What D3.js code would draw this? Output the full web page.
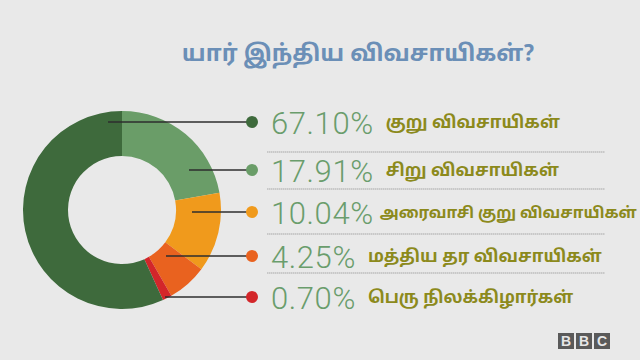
<!DOCTYPE html>
<html><head><meta charset="utf-8">
<script src="https://cdn.jsdelivr.net/npm/d3@7"></script>
<style>
html,body{margin:0;padding:0;background:#e9e9e9;}
svg{display:block;}
</style></head>
<body>
<svg id="c" width="640" height="360"></svg>
<script>
const title = "யார் இந்திய விவசாயிகள்?";
const categories = ["குறு விவசாயிகள்", "சிறு விவசாயிகள்", "அரைவாசி குறு விவசாயிகள்", "மத்திய தர விவசாயிகள்", "பெரு நிலக்கிழார்கள்"];
const values = [67.10, 17.91, 10.04, 4.25, 0.70];
// slice sizes as drawn in the picture (the donut is not drawn to scale)
const drawnShares = [56.8, 22.2, 13.0, 6.5, 1.5];
const colors = ["#3e6a3c", "#6a9d68", "#f09a1c", "#e9621f", "#d3262a"];
// order in which slices go clockwise from 12 o'clock
const sliceOrder = [1, 2, 3, 4, 0];

const fmt = d3.format(".2f");
const svg = d3.select("#c");
svg.append("rect").attr("width",640).attr("height",360).attr("fill","#e9e9e9");

svg.append("text").attr("x",358).attr("y",61).attr("text-anchor","middle")
  .attr("font-family","'Noto Sans Tamil','Lohit Tamil','Noto Sans',sans-serif")
  .attr("font-weight","bold").attr("font-size",23).attr("fill","#6b8fb7").text(title);

const cx = 122, cy = 210, R = 99, r = 54;
const g = svg.append("g").attr("transform",`translate(${cx},${cy})`);
const pie = d3.pie().sort(null).value(i => drawnShares[i]).startAngle(0).endAngle(2*Math.PI);
const arcs = pie(sliceOrder);
const arc = d3.arc().innerRadius(r).outerRadius(R);
g.selectAll("path").data(arcs).join("path").attr("d",arc).attr("fill",d => colors[d.data]);

const rowY = [122, 170, 212, 256, 297];
const lineStartX = [108, 189, 192, 166, 165];
const dotX = 252;

const sepY = [152, 189, 234, 273];
svg.selectAll("line.sep").data(sepY).join("line").attr("class","sep")
  .attr("x1",267).attr("x2",605).attr("y1",d=>d).attr("y2",d=>d)
  .attr("stroke","#bdbdbd").attr("stroke-width",1.5).attr("stroke-dasharray","1.5,0.5");

categories.forEach((c,i) => {
  const yy = rowY[i];
  svg.append("line").attr("x1",lineStartX[i]).attr("x2",dotX).attr("y1",yy).attr("y2",yy)
    .attr("stroke","#2e2e2e").attr("stroke-width",1.6);
  svg.append("circle").attr("cx",dotX).attr("cy",yy).attr("r",6).attr("fill",colors[i]);
  const t = svg.append("text").attr("x",271).attr("y",yy+12)
    .attr("font-family","Roboto,'Liberation Sans',sans-serif").attr("font-weight",300)
    .attr("font-size",31).attr("letter-spacing",0.6).attr("fill","#6a9d6c").text(fmt(values[i]) + "%");
  const w = t.node().getComputedTextLength();
  svg.append("text").attr("x",271+w+(i===2?6:12)).attr("y",yy+6)
    .attr("font-family","'Noto Sans Tamil','Lohit Tamil','Noto Sans',sans-serif")
    .attr("font-weight","bold").attr("font-size",i===2?15.5:17).attr("fill","#8c8a1c").text(c);
});

// BBC logo
const logo = svg.append("g").attr("transform","translate(558,333)");
["B","B","C"].forEach((ch,i) => {
  logo.append("rect").attr("x",i*18).attr("y",0).attr("width",16).attr("height",16).attr("fill","#5a5a5a");
  logo.append("text").attr("x",i*18+8).attr("y",13).attr("text-anchor","middle")
    .attr("font-family","'Liberation Sans',Arial,sans-serif").attr("font-weight","bold")
    .attr("font-size",14).attr("fill","#e6e6e6").text(ch);
});
</script>
</body></html>
